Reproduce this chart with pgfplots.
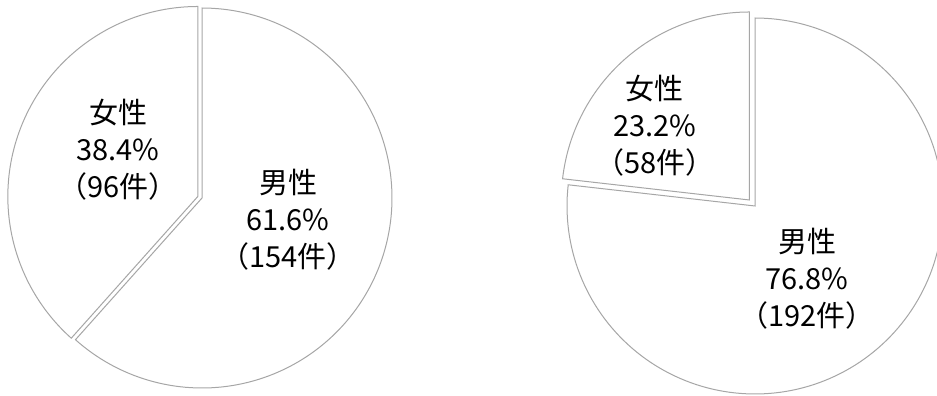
\documentclass[border=0pt]{standalone}
\usepackage{fontspec}
\setmainfont{Noto Sans CJK JP}
\usepackage{pgfplots}
\pgfplotsset{compat=1.18}
\begin{document}
\begin{tikzpicture}
\pgfplotsset{pieaxis/.style={hide axis, scale only axis, axis equal image,
  xmin=-1, xmax=1, ymin=-1, ymax=1, clip=false, anchor=origin}}
\tikzset{lbl/.style={align=center, font=\fontsize{14.5}{18.5}\selectfont}}
% Left pie: female 38.4% (96), male 61.6% (154)
\begin{axis}[pieaxis, width=190pt, height=190pt, at={(101pt,99pt)}]
\addplot[draw=gray!70, fill=white, line width=0.5pt, domain={90-61.6*3.6}:90, samples=140]
  ({cos(x)},{sin(x)}) -- (0,0) -- cycle;
\addplot[draw=gray!70, fill=white, line width=0.5pt, domain=90:{90+38.4*3.6}, samples=100]
  ({-0.022+cos(x)},{0.008+sin(x)}) -- (-0.022,0.008) -- cycle;
\node[lbl] at (axis cs:-0.442,0.253) {女性\\38.4\%\\（96件）};
\node[lbl] at (axis cs:0.453,-0.116) {男性\\61.6\%\\（154件）};
\end{axis}
% Right pie: female 23.2% (58), male 76.8% (192)
\begin{axis}[pieaxis, width=188pt, height=188pt, at={(377.5pt,95pt)}]
\addplot[draw=gray!70, fill=white, line width=0.5pt, domain={90-76.8*3.6}:90, samples=160]
  ({cos(x)},{sin(x)}) -- (0,0) -- cycle;
\addplot[draw=gray!70, fill=white, line width=0.5pt, domain=90:{90+23.2*3.6}, samples=60]
  ({-0.03+cos(x)},{0.032+sin(x)}) -- (-0.03,0.032) -- cycle;
\node[lbl] at (axis cs:-0.532,0.425) {女性\\23.2\%\\（58件）};
\node[lbl] at (axis cs:0.277,-0.388) {男性\\76.8\%\\（192件）};
\end{axis}
\pgfresetboundingbox
\path (0,0) rectangle (468.5pt,198pt);
\end{tikzpicture}
\end{document}
